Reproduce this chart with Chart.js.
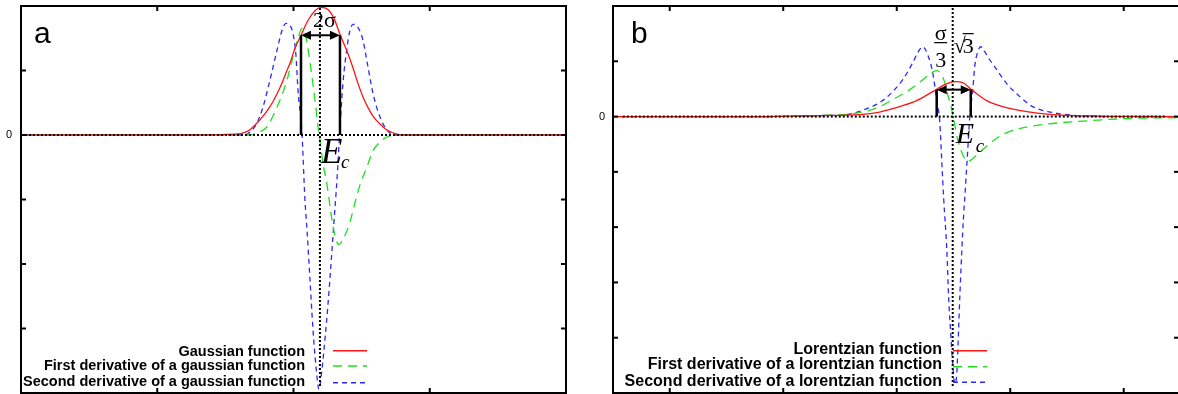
<!DOCTYPE html>
<html><head><meta charset="utf-8">
<script src="https://cdn.jsdelivr.net/npm/chart.js@4.4.1/dist/chart.umd.min.js"></script>
<style>
html,body{margin:0;padding:0;background:#fff;overflow:hidden;width:1178px;height:394px;position:relative;}
canvas{position:absolute;top:0;}
#ca{left:0;}
#cb{left:589px;}
</style></head><body>
<canvas id="ca" width="589" height="394"></canvas>
<canvas id="cb" width="591" height="394"></canvas>
<script>
// ---------- data (panel a : gaussian) ----------
const gaussX = [0, 1.314, 1.571, 1.644, 1.681, 1.732, 1.754, 1.791, 1.827, 1.850, 1.901, 1.952, 1.974, 2.011, 2.055, 2.106, 2.158, 2.202, 2.253, 2.297, 2.341, 2.393, 2.437, 2.473, 2.510, 2.547, 2.583, 2.635, 2.686, 2.760, 2.855, 4.0];
const gaussY = [0, 0, 0.012, 0.040, 0.080, 0.185, 0.235, 0.330, 0.440, 0.520, 0.735, 1.000, 1.113, 1.345, 1.546, 1.775, 1.925, 1.978, 1.947, 1.808, 1.561, 1.298, 1.040, 0.800, 0.590, 0.425, 0.294, 0.170, 0.077, 0.015, 0, 0];
const gaussD1X = [0, 1.681, 1.732, 1.805, 1.879, 1.923, 1.952, 1.996, 2.033, 2.062, 2.084, 2.106, 2.136, 2.158, 2.180, 2.194, 2.216, 2.246, 2.282, 2.312, 2.334, 2.363, 2.415, 2.451, 2.488, 2.539, 2.583, 2.635, 2.686, 2.760, 4.0];
const gaussD1Y = [0, 0, 0.031, 0.124, 0.433, 0.665, 0.850, 1.206, 1.500, 1.654, 1.592, 1.345, 0.896, 0.541, 0.124, -0.077, -0.433, -0.773, -1.314, -1.623, -1.700, -1.623, -1.345, -1.051, -0.773, -0.495, -0.247, -0.108, -0.031, 0, 0];
const gaussD2X = [0, 1.644, 1.681, 1.732, 1.776, 1.827, 1.879, 1.916, 1.945, 1.974, 1.996, 2.018, 2.033, 2.062, 2.084, 2.099, 2.121, 2.143, 2.165, 2.187, 2.209, 2.231, 2.253, 2.275, 2.297, 2.319, 2.341, 2.363, 2.393, 2.415, 2.437, 2.473, 2.510, 2.547, 2.583, 2.635, 2.686, 2.745, 4.0];
const gaussD2Y = [0, 0, 0.046, 0.185, 0.433, 0.850, 1.314, 1.623, 1.731, 1.700, 1.577, 1.236, 0.696, 0.031, -1.005, -1.468, -2.241, -3.014, -3.586, -3.941, -3.632, -3.168, -2.628, -2.009, -1.345, -0.696, 0.108, 0.804, 1.360, 1.623, 1.716, 1.669, 1.468, 1.051, 0.649, 0.278, 0.077, 0, 0];
const gaussLegend = ['Gaussian function', 'First derivative of a gaussian function', 'Second derivative of a gaussian function'];

// ---------- data (panel b : lorentzian) ----------
const lorX = [-0.5, 0.793, 1.322, 1.674, 1.850, 1.965, 2.176, 2.317, 2.405, 2.467, 2.520, 2.581, 2.670, 2.793, 2.934, 3.145, 3.374, 3.789, 4.487];
const lorY = [0, 0, 0.018, 0.036, 0.081, 0.144, 0.289, 0.451, 0.559, 0.613, 0.631, 0.613, 0.469, 0.289, 0.180, 0.090, 0.036, 0.009, 0];
const lorD1X = [-0.5, 0.793, 1.322, 1.674, 1.850, 1.965, 2.115, 2.229, 2.308, 2.352, 2.396, 2.423, 2.449, 2.485, 2.511, 2.537, 2.581, 2.626, 2.670, 2.731, 2.819, 2.934, 3.084, 3.286, 3.586, 4.026, 4.487];
const lorD1Y = [0, 0, 0.018, 0.072, 0.180, 0.307, 0.487, 0.667, 0.794, 0.830, 0.758, 0.613, 0.397, 0.126, -0.144, -0.415, -0.686, -0.812, -0.758, -0.649, -0.487, -0.325, -0.216, -0.144, -0.090, -0.036, -0.018];
const lorD2X = [-0.5, 0.793, 1.322, 1.559, 1.736, 1.850, 1.938, 2.053, 2.141, 2.185, 2.229, 2.273, 2.317, 2.352, 2.379, 2.396, 2.414, 2.441, 2.458, 2.476, 2.493, 2.511, 2.529, 2.537, 2.555, 2.581, 2.608, 2.626, 2.643, 2.670, 2.687, 2.714, 2.740, 2.775, 2.819, 2.881, 2.969, 3.084, 3.198, 3.374, 3.586, 3.877, 4.487];
const lorD2Y = [0, 0, 0.018, 0.036, 0.144, 0.253, 0.397, 0.667, 0.974, 1.155, 1.263, 1.118, 0.794, 0.307, -0.090, -0.776, -1.497, -2.399, -3.301, -3.933, -4.474, -4.835, -4.654, -4.294, -3.301, -2.093, -1.191, -0.595, -0.018, 0.487, 0.902, 1.173, 1.263, 1.173, 1.028, 0.848, 0.595, 0.361, 0.180, 0.072, 0.018, 0, 0];
const lorLegend = ['Lorentzian function', 'First derivative of a lorentzian function', 'Second derivative of a lorentzian function'];

const yTickLabel = '0';

// ---------- styling ----------
const RED = '#ff1414', GREEN = '#1ee01e', BLUE = '#2a2aff';
const DASH1 = [9, 6], DASH2 = [5, 4];

function pts(xs, ys) { return xs.map((x, i) => ({ x: x, y: ys[i] })); }
function ds(label, xs, ys, color, dash) {
  return { label, data: pts(xs, ys), borderColor: color, borderWidth: 1.3, borderDash: dash,
    pointRadius: 0, tension: 0.4, cubicInterpolationMode: 'monotone', fill: false };
}
function seg(ctx, x0, y0, x1, y1) { ctx.beginPath(); ctx.moveTo(x0, y0); ctx.lineTo(x1, y1); ctx.stroke(); }
function arrow(ctx, x0, x1, yy) {
  ctx.lineWidth = 2;
  seg(ctx, x0 + 4, yy, x1 - 4, yy);
  ctx.beginPath(); ctx.moveTo(x0, yy); ctx.lineTo(x0 + 10, yy - 4.5); ctx.lineTo(x0 + 10, yy + 4.5); ctx.closePath(); ctx.fill();
  ctx.beginPath(); ctx.moveTo(x1, yy); ctx.lineTo(x1 - 10, yy - 4.5); ctx.lineTo(x1 - 10, yy + 4.5); ctx.closePath(); ctx.fill();
}

function overlay(p) {
  return {
    id: 'overlay_' + p.letter,
    afterDatasetsDraw(chart) {
      const ctx = chart.ctx, a = chart.chartArea, xs = chart.scales.x, ys = chart.scales.y;
      const X = v => xs.getPixelForValue(v), Y = v => ys.getPixelForValue(v);
      ctx.save();
      ctx.strokeStyle = '#000'; ctx.fillStyle = '#000';
      // dotted guides
      ctx.lineWidth = 2; ctx.setLineDash([2, 2]);
      seg(ctx, X(p.zeroFrom), Y(0), X(p.zeroTo), Y(0));
      seg(ctx, X(p.ec), a.top + 2, X(p.ec), a.bottom - 6);
      ctx.setLineDash([]);
      // width bars + arrow
      ctx.lineWidth = 2.5;
      p.bars.forEach(b => seg(ctx, X(b), Y(0), X(b), Y(p.barTop)));
      arrow(ctx, X(p.bars[0]), X(p.bars[1]), Y(p.barTop));
      // frame
      ctx.lineWidth = 2;
      ctx.strokeRect(a.left, a.top, a.right - a.left, a.bottom - a.top);
      // inward ticks
      for (let v = Math.ceil(p.xMin); v <= p.xMax; v++) {
        const px = X(v); if (px - a.left < 3 || a.right - px < 3) continue;
        seg(ctx, px, a.top, px, a.top + 5); seg(ctx, px, a.bottom, px, a.bottom - 5);
      }
      for (let v = Math.ceil(p.yMin); v <= p.yMax; v++) {
        const py = Y(v); if (py - a.top < 3 || a.bottom - py < 3) continue;
        seg(ctx, a.left, py, a.left + 5, py); seg(ctx, a.right, py, a.right - 5, py);
      }
      // panel letter
      ctx.font = '30px "Liberation Sans", Arial, sans-serif';
      ctx.textAlign = 'left'; ctx.textBaseline = 'alphabetic';
      ctx.fillText(p.letter, a.left + p.letterDx, a.top + 37);
      // width label
      const cx = (X(p.bars[0]) + X(p.bars[1])) / 2;
      const top = Y(p.barTop);
      ctx.font = '22px "Liberation Serif", "Times New Roman", serif';
      if (p.letter === 'a') {
        ctx.textAlign = 'center';
        ctx.fillText('2σ', cx + 4, top - 8);
      } else {
        const fx = X(p.bars[0]) + 4;
        ctx.textAlign = 'center';
        ctx.fillText('σ', fx, top - 50);
        ctx.lineWidth = 1.2; seg(ctx, fx - 6.5, top - 47, fx + 6.5, top - 47);
        ctx.fillText('3', fx, top - 23);
        ctx.textAlign = 'left';
        const rx = X(p.ec) + 1;
        ctx.fillText('√', rx, top - 37);
        ctx.fillText('3', rx + 9, top - 37);
        ctx.lineWidth = 1.2; seg(ctx, rx + 9, top - 56, rx + 20, top - 56);
      }
      // E_c
      ctx.textAlign = 'left';
      ctx.font = 'italic ' + p.eSize + 'px "Liberation Serif", "Times New Roman", serif';
      ctx.fillText('E', X(p.ec) + p.eDx, Y(0) + p.eDy);
      ctx.font = 'italic 19px "Liberation Serif", "Times New Roman", serif';
      ctx.fillText('c', X(p.ec) + p.cDx, Y(0) + p.cDy);
      // legend
      ctx.font = p.legendFont;
      ctx.textAlign = 'right';
      chart.data.datasets.forEach((d, i) => {
        ctx.fillStyle = '#000';
        ctx.fillText(d.label, a.left + p.legTextRight, a.bottom - p.legBase[i]);
        ctx.strokeStyle = d.borderColor; ctx.lineWidth = 1.5;
        ctx.setLineDash(d.borderDash || []);
        seg(ctx, a.left + p.legLine[0], a.bottom - p.legLineY[i], a.left + p.legLine[1], a.bottom - p.legLineY[i]);
        ctx.setLineDash([]);
      });
      ctx.restore();
    }
  };
}

function makeChart(id, p, datasets) {
  return new Chart(document.getElementById(id), {
    type: 'line',
    data: { datasets },
    options: {
      responsive: false, animation: false, devicePixelRatio: 1,
      layout: { padding: { top: 6, right: p.padRight, bottom: 1, left: 0 } },
      plugins: { legend: { display: false }, tooltip: { enabled: false } },
      scales: {
        x: { type: 'linear', display: false, min: p.xMin, max: p.xMax },
        y: {
          type: 'linear', min: p.yMin, max: p.yMax,
          border: { display: false }, grid: { display: false, drawTicks: false },
          ticks: { stepSize: 1, autoSkip: false, padding: p.labelPad, color: '#000',
            font: { family: '"Liberation Sans", Arial, sans-serif', size: 11 },
            callback: v => (v === 0 ? yTickLabel : '') },
          afterFit: s => { s.width = p.axisWidth; s.paddingTop = 0; s.paddingBottom = 0; }
        }
      }
    },
    plugins: [overlay(p)]
  });
}

const panelA = { letter: 'a', letterDx: 13, xMin: 0, xMax: 4, yMin: -4, yMax: 2, padRight: 23, axisWidth: 21, labelPad: 9,
  ec: 2.194, bars: [2.055, 2.341], barTop: 1.546, zeroFrom: 0, zeroTo: 4,
  eSize: 35, eDx: 1, eDy: 28, cDx: 21, cDy: 33,
  legendFont: 'bold 14.5px "Liberation Sans", Arial, sans-serif', legTextRight: 284, legLine: [312, 346],
  legBase: [37, 23, 7], legLineY: [42.3, 27, 10.3] };
const panelB = { letter: 'b', letterDx: 18, xMin: -0.5, xMax: 4.487, yMin: -5, yMax: 2, padRight: 1, axisWidth: 24, labelPad: 8,
  ec: 2.493, bars: [2.352, 2.652], barTop: 0.487, zeroFrom: -0.414, zeroTo: 4.361,
  eSize: 30, eDx: 3, eDy: 26, cDx: 23, cDy: 35,
  legendFont: 'bold 16px "Liberation Sans", Arial, sans-serif', legTextRight: 329, legLine: [340, 374],
  legBase: [39, 24, 7], legLineY: [42.3, 26.3, 10.7] };

makeChart('ca', panelA, [
  ds(gaussLegend[0], gaussX, gaussY, RED, []),
  ds(gaussLegend[1], gaussD1X, gaussD1Y, GREEN, DASH1),
  ds(gaussLegend[2], gaussD2X, gaussD2Y, BLUE, DASH2)
]);
makeChart('cb', panelB, [
  ds(lorLegend[0], lorX, lorY, RED, []),
  ds(lorLegend[1], lorD1X, lorD1Y, GREEN, DASH1),
  ds(lorLegend[2], lorD2X, lorD2Y, BLUE, DASH2)
]);
</script>
</body></html>
